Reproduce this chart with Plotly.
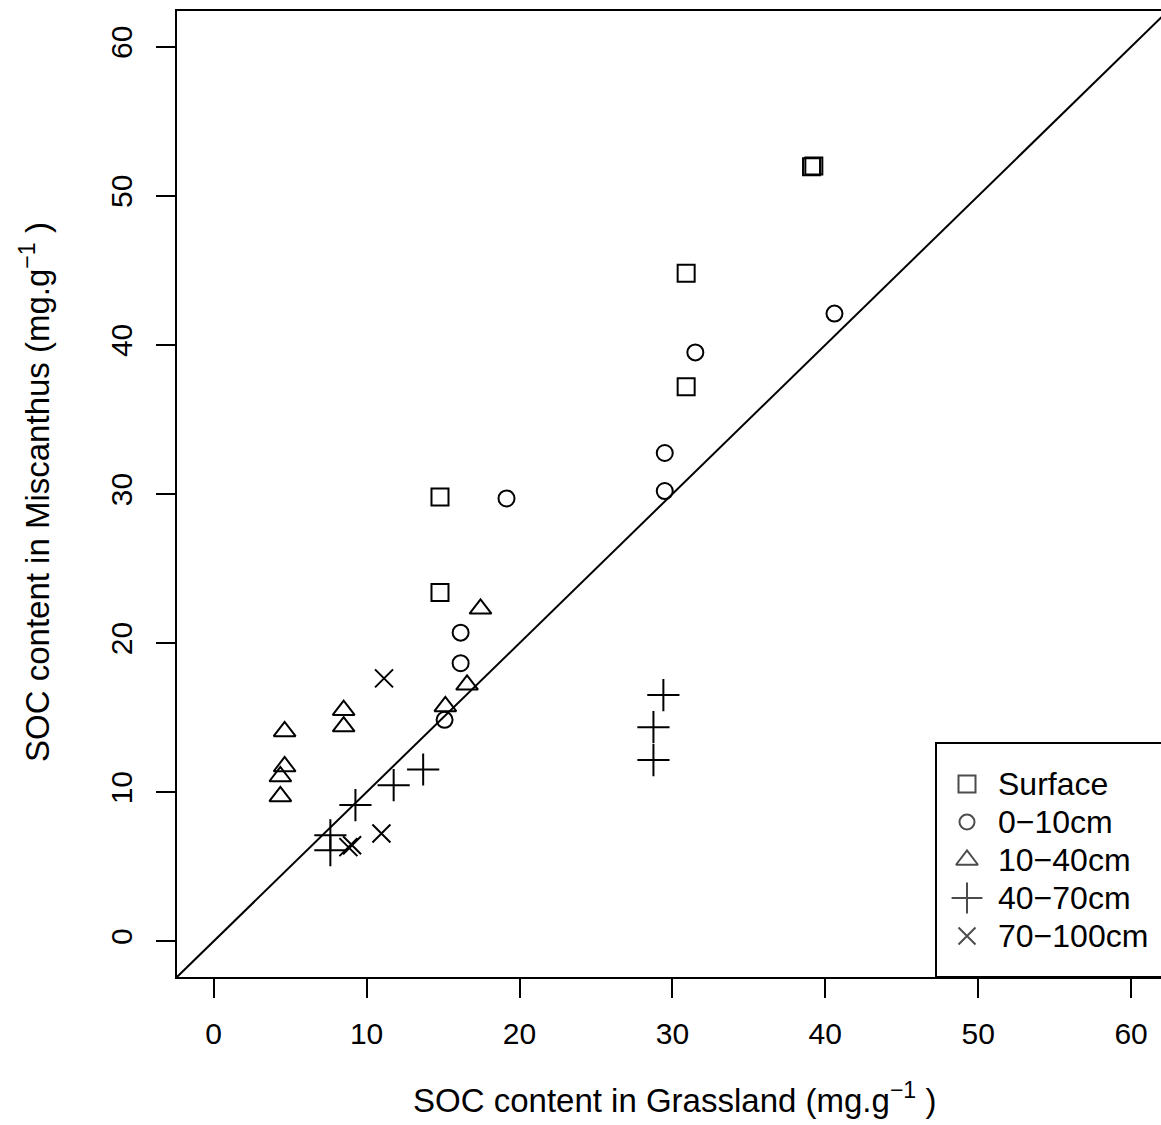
import plotly.graph_objects as go

# ---- data ----
surface_x = [39.1, 39.25, 30.9, 30.9, 14.8, 14.8]
surface_y = [51.95, 52.0, 44.8, 37.2, 29.8, 23.4]

d0_10_x = [40.6, 31.5, 29.5, 29.5, 19.15, 16.15, 16.15, 15.1]
d0_10_y = [42.1, 39.5, 32.75, 30.2, 29.7, 20.7, 18.65, 14.85]

d10_40_x = [17.45, 16.57, 15.15, 8.5, 8.5, 4.64, 4.64, 4.36, 4.36]
d10_40_y = [22.3, 17.2, 15.75, 15.5, 14.4, 14.07, 11.72, 11.05, 9.71]

d40_70_x = [29.41, 28.76, 28.76, 13.7, 11.77, 9.27, 7.63, 7.63]
d40_70_y = [16.51, 14.36, 12.15, 11.52, 10.47, 9.13, 7.11, 6.11]

d70_100_x = [11.14, 10.97, 9.05, 8.81]
d70_100_y = [17.63, 7.23, 6.44, 6.31]

series_names = ["Surface", "0\u221210cm", "10\u221240cm", "40\u221270cm", "70\u2212100cm"]
series_symbols = ["square-open", "circle-open", "triangle-up-open", "cross-thin-open", "x-thin-open"]
series_sizes = [17, 16, 19, 23, 18]
tick_vals = [0, 10, 20, 30, 40, 50, 60]

FONT = "Liberation Sans, Arial, Helvetica, sans-serif"
FS_TICK = 30
FS_TITLE = 33
FS_LEG = 32
W, H = 1161, 1125
ML, MR, MT, MB = 177, 0, 11, 148

xs = [surface_x, d0_10_x, d10_40_x, d40_70_x, d70_100_x]
ys = [surface_y, d0_10_y, d10_40_y, d40_70_y, d70_100_y]

fig = go.Figure()

# 1:1 line
fig.add_trace(go.Scatter(x=[-10, 80], y=[-10, 80], mode="lines",
                         line=dict(color="black", width=2), showlegend=False,
                         hoverinfo="skip"))

for name, sym, sz, x, y in zip(series_names, series_symbols, series_sizes, xs, ys):
    fig.add_trace(go.Scatter(x=x, y=y, mode="markers", name=name, showlegend=False,
                             marker=dict(symbol=sym, size=sz, color="black",
                                         line=dict(color="black", width=2))))

# ---- manual legend (box, symbols on an overlay 0..1 axis, text) ----
plot_w = W - ML - MR
plot_h = H - MT - MB
def px2paper_x(px):
    return (px - ML) / plot_w
def py2paper_y(py):
    return (H - MB - py) / plot_h

leg_rows_py = [784, 822, 860, 898, 936]
leg_sym_px = 967
leg_txt_px = 996

fig.add_trace(go.Scatter(
    x=[px2paper_x(leg_sym_px)] * len(series_names),
    y=[py2paper_y(p) for p in leg_rows_py],
    xaxis="x2", yaxis="y2", mode="markers", showlegend=False, hoverinfo="skip",
    marker=dict(symbol=series_symbols, size=[17, 15, 19, 22, 17], color="black",
                line=dict(color="black", width=2))))

fig.add_shape(type="rect", xref="paper", yref="paper",
              x0=px2paper_x(936), x1=px2paper_x(1167), y0=0, y1=py2paper_y(743),
              line=dict(color="black", width=2), fillcolor="white", layer="below")

annotations = []
for name, p in zip(series_names, leg_rows_py):
    annotations.append(dict(text=name, xref="paper", yref="paper",
                            x=px2paper_x(leg_txt_px), y=py2paper_y(p),
                            xanchor="left", yanchor="middle", showarrow=False,
                            font=dict(family=FONT, size=FS_LEG, color="black")))

# axis titles
annotations.append(dict(text="SOC content in Grassland (mg.g<sup>\u22121</sup> )",
                        xref="paper", yref="paper", x=px2paper_x(674), y=py2paper_y(1098),
                        xanchor="center", yanchor="middle", showarrow=False,
                        font=dict(family=FONT, size=FS_TITLE, color="black")))
annotations.append(dict(text="SOC content in Miscanthus (mg.g<sup>\u22121</sup> )",
                        xref="paper", yref="paper", x=px2paper_x(35), y=py2paper_y(492),
                        xanchor="center", yanchor="middle", showarrow=False, textangle=-90,
                        font=dict(family=FONT, size=FS_TITLE, color="black")))

x_lo = -2.4
x_hi = x_lo + plot_w / 15.29

fig.update_layout(
    width=W, height=H,
    margin=dict(l=ML, r=MR, t=MT, b=MB, pad=0, autoexpand=False),
    paper_bgcolor="white", plot_bgcolor="white",
    showlegend=False,
    annotations=annotations,
    font=dict(family=FONT, size=FS_TICK, color="black"),
    xaxis=dict(range=[x_lo, x_hi], tickvals=tick_vals, ticks="outside", ticklen=19,
               tickwidth=2, tickcolor="black", showgrid=False, zeroline=False,
               showline=True, linecolor="black", linewidth=2, mirror=True,
               tickfont=dict(family=FONT, size=FS_TICK, color="black"),
               ticklabelstandoff=10),
    yaxis=dict(range=[-2.4, 62.4], tickvals=tick_vals, ticks="outside", ticklen=19,
               tickwidth=2, tickcolor="black", showgrid=False, zeroline=False,
               showline=True, linecolor="black", linewidth=2, mirror=False,
               tickangle=-90,
               tickfont=dict(family=FONT, size=FS_TICK, color="black"),
               ticklabelstandoff=12),
    xaxis2=dict(overlaying="x", range=[0, 1], visible=False),
    yaxis2=dict(overlaying="y", range=[0, 1], visible=False),
)

fig.write_html("out.html")
